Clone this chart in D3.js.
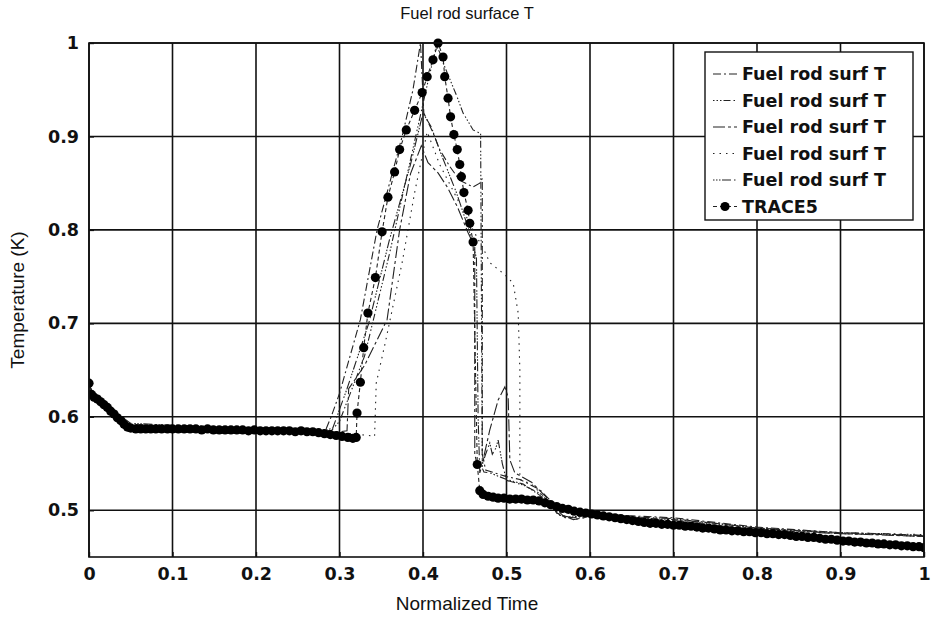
<!DOCTYPE html>
<html>
<head>
<meta charset="utf-8">
<script src="https://cdn.jsdelivr.net/npm/d3@7/dist/d3.min.js"></script>
<style>
  html, body { margin: 0; padding: 0; background: #fff; }
  svg { display: block; }
</style>
</head>
<body>
<svg id="chart" width="932" height="618"></svg>
<script>
// ---- data -------------------------------------------------------------
const xTickValues = [0, 0.1, 0.2, 0.3, 0.4, 0.5, 0.6, 0.7, 0.8, 0.9, 1];
const xTickLabels = ["0", "0.1", "0.2", "0.3", "0.4", "0.5", "0.6", "0.7", "0.8", "0.9", "1"];
const yTickValues = [0.5, 0.6, 0.7, 0.8, 0.9, 1];
const yTickLabels = ["0.5", "0.6", "0.7", "0.8", "0.9", "1"];

const seriesNames = ["Fuel rod surf T", "Fuel rod surf T", "Fuel rod surf T",
                     "Fuel rod surf T", "Fuel rod surf T", "TRACE5"];

const rod1X = [0, 0.005, 0.02, 0.04, 0.05, 0.1, 0.15, 0.2, 0.25, 0.283, 0.29, 0.30, 0.325, 0.345, 0.36, 0.375, 0.388, 0.397, 0.401, 0.412, 0.42, 0.432, 0.444, 0.46, 0.468, 0.471, 0.471, 0.475, 0.50, 0.516, 0.54, 0.552, 0.562, 0.58, 0.6, 0.65, 0.7, 0.75, 0.8, 0.85, 0.9, 0.95, 1.0];
const rod1Y = [0.635, 0.624, 0.613, 0.597, 0.592, 0.590, 0.589, 0.588, 0.587, 0.585, 0.60, 0.625, 0.704, 0.80, 0.85, 0.90, 0.95, 1.0, 0.925, 0.904, 0.886, 0.868, 0.853, 0.846, 0.85, 0.855, 0.56, 0.543, 0.536, 0.533, 0.522, 0.511, 0.495, 0.492, 0.496, 0.494, 0.492, 0.487, 0.482, 0.479, 0.476, 0.475, 0.473];

const rod2X = [0, 0.005, 0.02, 0.05, 0.1, 0.2, 0.29, 0.30, 0.33, 0.36, 0.39, 0.405, 0.416, 0.42, 0.424, 0.441, 0.448, 0.46, 0.469, 0.471, 0.473, 0.48, 0.50, 0.52, 0.54, 0.555, 0.565, 0.58, 0.6, 0.65, 0.7, 0.75, 0.8, 0.85, 0.9, 0.95, 1.0];
const rod2Y = [0.634, 0.622, 0.612, 0.590, 0.588, 0.586, 0.585, 0.595, 0.665, 0.775, 0.895, 0.955, 0.997, 0.990, 0.979, 0.942, 0.925, 0.907, 0.903, 0.545, 0.541, 0.540, 0.533, 0.528, 0.516, 0.504, 0.494, 0.492, 0.494, 0.492, 0.490, 0.486, 0.481, 0.478, 0.475, 0.474, 0.472];

const rod3X = [0, 0.005, 0.02, 0.05, 0.1, 0.2, 0.3, 0.309, 0.311, 0.33, 0.357, 0.372, 0.385, 0.398, 0.406, 0.418, 0.429, 0.441, 0.454, 0.462, 0.462, 0.465, 0.472, 0.48, 0.49, 0.498, 0.502, 0.504, 0.51, 0.53, 0.55, 0.56, 0.58, 0.6, 0.7, 0.8, 0.9, 1.0];
const rod3Y = [0.636, 0.623, 0.611, 0.589, 0.588, 0.586, 0.584, 0.585, 0.63, 0.655, 0.704, 0.80, 0.86, 0.89, 0.872, 0.861, 0.846, 0.825, 0.797, 0.782, 0.56, 0.548, 0.554, 0.586, 0.618, 0.632, 0.621, 0.554, 0.54, 0.53, 0.512, 0.497, 0.49, 0.493, 0.489, 0.479, 0.475, 0.472];

const rod4X = [0, 0.005, 0.02, 0.05, 0.1, 0.2, 0.3, 0.335, 0.342, 0.344, 0.355, 0.375, 0.39, 0.405, 0.42, 0.44, 0.46, 0.475, 0.48, 0.498, 0.508, 0.514, 0.516, 0.516, 0.53, 0.55, 0.56, 0.58, 0.6, 0.7, 0.8, 0.9, 1.0];
const rod4Y = [0.635, 0.623, 0.612, 0.59, 0.588, 0.586, 0.583, 0.580, 0.579, 0.636, 0.68, 0.765, 0.84, 0.905, 0.87, 0.835, 0.80, 0.775, 0.765, 0.752, 0.743, 0.711, 0.65, 0.533, 0.528, 0.51, 0.497, 0.49, 0.493, 0.49, 0.48, 0.476, 0.474];

const rod5X = [0, 0.005, 0.02, 0.05, 0.1, 0.2, 0.285, 0.292, 0.309, 0.335, 0.36, 0.385, 0.40, 0.41, 0.42, 0.44, 0.455, 0.464, 0.466, 0.468, 0.475, 0.48, 0.483, 0.487, 0.49, 0.495, 0.50, 0.52, 0.54, 0.555, 0.57, 0.6, 0.7, 0.8, 0.9, 1.0];
const rod5Y = [0.636, 0.624, 0.613, 0.593, 0.591, 0.588, 0.586, 0.588, 0.63, 0.70, 0.79, 0.87, 0.925, 0.91, 0.885, 0.84, 0.80, 0.77, 0.60, 0.54, 0.56, 0.572, 0.56, 0.566, 0.575, 0.55, 0.532, 0.527, 0.518, 0.506, 0.492, 0.495, 0.491, 0.481, 0.476, 0.473];

const trace5X = [0.000, 0.003, 0.006, 0.010, 0.014, 0.018, 0.022, 0.026, 0.030, 0.034, 0.038, 0.042, 0.046, 0.050, 0.056, 0.062, 0.068, 0.074, 0.080, 0.087, 0.094, 0.100, 0.107, 0.114, 0.121, 0.128, 0.135, 0.142, 0.149, 0.156, 0.163, 0.170, 0.177, 0.184, 0.191, 0.198, 0.205, 0.212, 0.219, 0.226, 0.233, 0.240, 0.247, 0.254, 0.261, 0.268, 0.275, 0.282, 0.289, 0.296, 0.303, 0.310, 0.316, 0.320,
  0.321, 0.325, 0.329, 0.334, 0.343, 0.351, 0.358, 0.366, 0.372, 0.380, 0.390, 0.399, 0.405, 0.412, 0.418, 0.424, 0.426, 0.430, 0.433, 0.437, 0.441, 0.444, 0.446, 0.449, 0.454, 0.456, 0.460, 0.465, 0.468,
  0.472, 0.478, 0.484, 0.490, 0.497, 0.504, 0.511, 0.518, 0.525, 0.532, 0.539, 0.546, 0.553, 0.560, 0.567, 0.574, 0.581, 0.588, 0.595, 0.602, 0.609, 0.616, 0.623, 0.630, 0.637, 0.644, 0.651, 0.658, 0.665, 0.672, 0.679, 0.686, 0.693, 0.700, 0.707, 0.714, 0.721, 0.728, 0.735, 0.742, 0.749, 0.756, 0.763, 0.770, 0.777, 0.784, 0.791, 0.798, 0.805, 0.812, 0.819, 0.826, 0.833, 0.840, 0.847, 0.854, 0.861, 0.868, 0.875, 0.882, 0.889, 0.896, 0.903, 0.910, 0.917, 0.924, 0.931, 0.938, 0.945, 0.952, 0.959, 0.966, 0.973, 0.980, 0.987, 0.994, 1.000];
const trace5Y = [0.636, 0.624, 0.621, 0.619, 0.616, 0.613, 0.610, 0.606, 0.603, 0.599, 0.596, 0.592, 0.589, 0.588, 0.587, 0.587, 0.587, 0.587, 0.587, 0.587, 0.587, 0.587, 0.587, 0.587, 0.587, 0.587, 0.586, 0.587, 0.586, 0.586, 0.586, 0.586, 0.586, 0.586, 0.585, 0.586, 0.585, 0.585, 0.585, 0.585, 0.585, 0.585, 0.584, 0.585, 0.584, 0.584, 0.583, 0.582, 0.581, 0.580, 0.579, 0.578, 0.577, 0.578,
  0.604, 0.637, 0.674, 0.711, 0.749, 0.798, 0.835, 0.862, 0.886, 0.907, 0.928, 0.947, 0.964, 0.982, 1.000, 0.985, 0.964, 0.941, 0.921, 0.902, 0.886, 0.870, 0.857, 0.840, 0.821, 0.807, 0.787, 0.549, 0.521,
  0.517, 0.515, 0.514, 0.513, 0.513, 0.512, 0.512, 0.512, 0.511, 0.511, 0.510, 0.508, 0.506, 0.504, 0.502, 0.501, 0.499, 0.498, 0.497, 0.496, 0.495, 0.494, 0.493, 0.492, 0.491, 0.490, 0.489, 0.488, 0.487, 0.486, 0.486, 0.485, 0.485, 0.484, 0.484, 0.483, 0.483, 0.482, 0.481, 0.481, 0.480, 0.479, 0.479, 0.478, 0.478, 0.477, 0.477, 0.476, 0.476, 0.475, 0.475, 0.474, 0.474, 0.473, 0.472, 0.472, 0.471, 0.471, 0.470, 0.469, 0.469, 0.468, 0.467, 0.467, 0.466, 0.466, 0.465, 0.465, 0.464, 0.464, 0.463, 0.463, 0.462, 0.462, 0.461, 0.461, 0.460];

// ---- layout -----------------------------------------------------------
const svg = d3.select("#chart");
const W = 932, H = 618;
const plot = { left: 89, right: 924, top: 43, bottom: 557 };

const x = d3.scaleLinear().domain([0, 1]).range([plot.left, plot.right]);
const y = d3.scaleLinear().domain([0.45, 1]).range([plot.bottom, plot.top]);

const ink = "#111";
const tickFont = "'DejaVu Sans', sans-serif";
const labelFont = "'Liberation Sans', Arial, sans-serif";

svg.append("rect").attr("width", W).attr("height", H).attr("fill", "#fff");

// grid
const grid = svg.append("g").attr("stroke", ink).attr("stroke-width", 1.6);
grid.selectAll("line.gx").data(xTickValues).join("line")
  .attr("x1", d => x(d)).attr("x2", d => x(d))
  .attr("y1", plot.top).attr("y2", plot.bottom);
grid.selectAll("line.gy").data(yTickValues).join("line")
  .attr("x1", plot.left).attr("x2", plot.right)
  .attr("y1", d => y(d)).attr("y2", d => y(d));

// axes (tick labels via d3 axis generators)
const xAxis = d3.axisBottom(x).tickValues(xTickValues)
  .tickFormat((d, i) => xTickLabels[i]).tickSize(-5).tickPadding(11);
const yAxis = d3.axisLeft(y).tickValues(yTickValues)
  .tickFormat((d, i) => yTickLabels[i]).tickSize(-5).tickPadding(10);

const gx = svg.append("g").attr("transform", `translate(0,${plot.bottom})`).call(xAxis);
const gy = svg.append("g").attr("transform", `translate(${plot.left},0)`).call(yAxis);
[gx, gy].forEach(g => {
  g.select(".domain").remove();
  g.selectAll(".tick line").attr("stroke", ink).attr("stroke-width", 1.4);
  g.selectAll(".tick text").attr("fill", ink)
    .style("font-family", tickFont).style("font-weight", "bold").style("font-size", "17.5px");
});

// plotted series
svg.append("clipPath").attr("id", "plotClip").append("rect")
  .attr("x", plot.left).attr("y", plot.top - 6)
  .attr("width", plot.right - plot.left).attr("height", plot.bottom - plot.top + 6);

const rodSeries = [
  { xs: rod1X, ys: rod1Y, dash: "8,3,2,3" },
  { xs: rod2X, ys: rod2Y, dash: "1.5,2,1.5,2,1.5,2,7,3" },
  { xs: rod3X, ys: rod3Y, dash: "12,3,3,3" },
  { xs: rod4X, ys: rod4Y, dash: "1.5,5" },
  { xs: rod5X, ys: rod5Y, dash: "1.5,1.5,1.5,1.5,1.5,1.5,9,3" }
];

const line = d3.line().x(d => x(d[0])).y(d => y(d[1]));
const series = svg.append("g").attr("clip-path", "url(#plotClip)");

rodSeries.forEach(s => {
  const pts = s.xs.map((v, i) => [v, s.ys[i]]);
  series.append("path").datum(pts)
    .attr("d", line).attr("fill", "none")
    .attr("stroke", "#222").attr("stroke-width", 1.1)
    .attr("stroke-dasharray", s.dash);
});

const tracePts = trace5X.map((v, i) => [v, trace5Y[i]]);
series.append("path").datum(tracePts)
  .attr("d", line).attr("fill", "none")
  .attr("stroke", "#222").attr("stroke-width", 1.1)
  .attr("stroke-dasharray", "4,3");
series.append("g").selectAll("circle").data(tracePts).join("circle")
  .attr("cx", d => x(d[0])).attr("cy", d => y(d[1])).attr("r", 4.6)
  .attr("fill", "#000");

// axes box
svg.append("rect")
  .attr("x", plot.left).attr("y", plot.top)
  .attr("width", plot.right - plot.left).attr("height", plot.bottom - plot.top)
  .attr("fill", "none").attr("stroke", ink).attr("stroke-width", 1.6);

// legend
const leg = { x: 705, y: 52, w: 208, h: 168, row: 26.5, first: 74 };
svg.append("rect").attr("x", leg.x).attr("y", leg.y).attr("width", leg.w).attr("height", leg.h)
  .attr("fill", "#fff").attr("stroke", ink).attr("stroke-width", 1.4);

const legendDashes = rodSeries.map(s => s.dash).concat(["4,3"]);
const legRows = svg.append("g").selectAll("g").data(seriesNames).join("g")
  .attr("transform", (d, i) => `translate(${leg.x},${leg.first + i * leg.row})`);
legRows.append("line")
  .attr("x1", 8).attr("x2", 32).attr("y1", 0).attr("y2", 0)
  .attr("stroke", "#222").attr("stroke-width", 1.1)
  .attr("stroke-dasharray", (d, i) => legendDashes[i]);
legRows.filter((d, i) => i === seriesNames.length - 1).append("circle")
  .attr("cx", 20).attr("cy", 0).attr("r", 4.6).attr("fill", "#000");
legRows.append("text")
  .attr("x", 37).attr("y", 0).attr("dy", "0.36em")
  .attr("fill", ink)
  .style("font-family", tickFont).style("font-weight", "bold").style("font-size", "17.5px")
  .text(d => d);

// titles
svg.append("text").attr("x", 467).attr("y", 19)
  .attr("text-anchor", "middle").attr("fill", ink)
  .style("font-family", labelFont).style("font-size", "16.5px")
  .text("Fuel rod surface T");
svg.append("text").attr("x", 467).attr("y", 610)
  .attr("text-anchor", "middle").attr("fill", ink)
  .style("font-family", labelFont).style("font-size", "19px")
  .text("Normalized Time");
svg.append("text")
  .attr("transform", `translate(24,${(plot.top + plot.bottom) / 2}) rotate(-90)`)
  .attr("text-anchor", "middle").attr("fill", ink)
  .style("font-family", labelFont).style("font-size", "19px")
  .text("Temperature (K)");
</script>
</body>
</html>
